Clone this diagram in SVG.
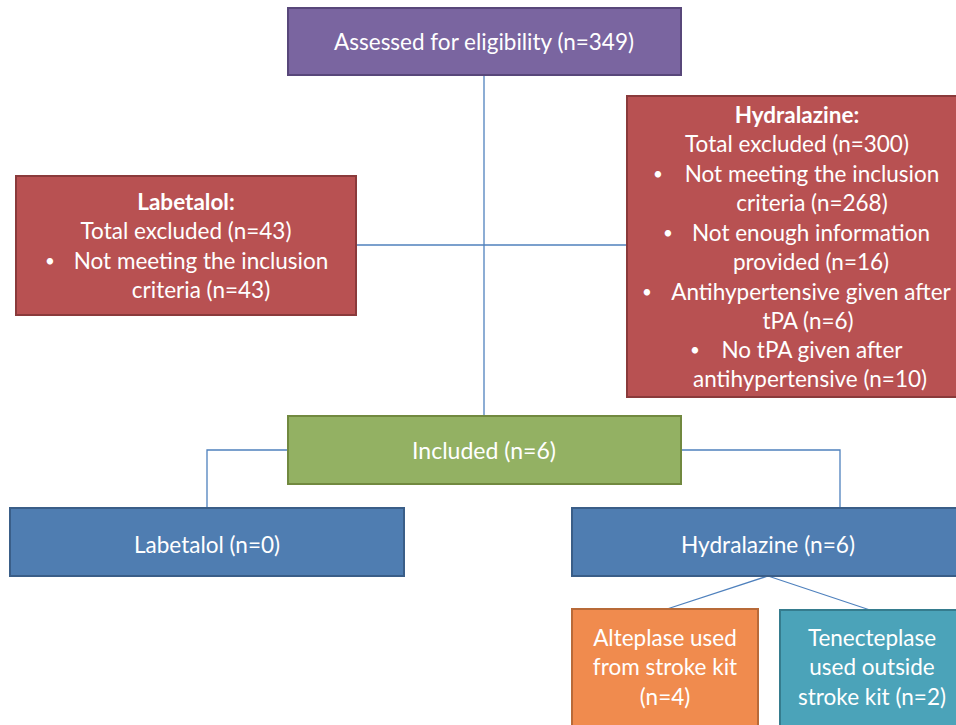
<svg xmlns="http://www.w3.org/2000/svg" width="956" height="725" viewBox="0 0 956 725">
<style>
text{font-family:Lato,"Open Sans","Liberation Sans",sans-serif;font-size:22.5px;fill:#fff;text-anchor:middle}
.b{font-weight:bold}
.s{text-anchor:start;font-size:17px}
.c{font-size:23px}
.purple{fill:#7A65A0;stroke:#58477A;stroke-width:2}
.red{fill:#B85152;stroke:#8A3A3B;stroke-width:2}
.green{fill:#93B163;stroke:#71893F;stroke-width:2}
.blue{fill:#4F7DB1;stroke:#3A5E88;stroke-width:2}
.orange{fill:#F08B4E;stroke:#B86A38;stroke-width:2}
.teal{fill:#4BA3B9;stroke:#357C8E;stroke-width:2}
.ln{fill:none;stroke:#4F81BD;stroke-width:1.3}
</style>
<rect width="956" height="725" fill="#fff"/>
<g id="connectors">
<path class="ln" d="M484,75V416"/>
<path class="ln" d="M357,245H627"/>
<path class="ln" d="M288,450H207V508"/>
<path class="ln" d="M681,450H840V508"/>
<path class="ln" d="M768,576L667,609"/>
<path class="ln" d="M768,576L870,610"/>
</g>
<g id="assessed">
<rect class="purple" x="288" y="8" width="393" height="67"/>
<text x="484" y="50">Assessed for eligibility (n=349)</text>
</g>
<g id="labetalol-excluded">
<rect class="red" x="16" y="176" width="340" height="139"/>
<text class="b" x="186" y="210">Labetalol:</text>
<text x="186" y="239">Total excluded (n=43)</text>
<text x="45" y="267" class="s">•</text>
<text x="201" y="269">Not meeting the inclusion</text>
<text x="201" y="298">criteria (n=43)</text>
</g>
<g id="hydralazine-excluded">
<rect class="red" x="627" y="96" width="340" height="301"/>
<text class="b" x="797" y="123">Hydralazine:</text>
<text x="797" y="152">Total excluded (n=300)</text>
<text x="653" y="180" class="s">•</text>
<text x="812" y="182">Not meeting the inclusion</text>
<text x="812" y="211">criteria (n=268)</text>
<text x="663" y="239" class="s">•</text>
<text x="811" y="241">Not enough information</text>
<text x="811" y="270">provided (n=16)</text>
<text x="642" y="298" class="s">•</text>
<text x="811" y="300">Antihypertensive given after</text>
<text x="808" y="329">tPA (n=6)</text>
<text x="690" y="356" class="s">•</text>
<text x="812" y="358">No tPA given after</text>
<text x="810" y="387">antihypertensive (n=10)</text>
</g>
<g id="included">
<rect class="green" x="288" y="416" width="393" height="68"/>
<text class="c" x="484" y="459" textLength="144" lengthAdjust="spacingAndGlyphs">Included (n=6)</text>
</g>
<g id="labetalol">
<rect class="blue" x="10" y="508" width="394" height="68"/>
<text class="c" x="207" y="553" textLength="146" lengthAdjust="spacingAndGlyphs">Labetalol (n=0)</text>
</g>
<g id="hydralazine">
<rect class="blue" x="572" y="508" width="394" height="68"/>
<text class="c" x="768" y="553" textLength="174" lengthAdjust="spacingAndGlyphs">Hydralazine (n=6)</text>
</g>
<g id="alteplase">
<rect class="orange" x="572" y="609" width="186" height="120"/>
<text x="665" y="646">Alteplase used</text>
<text x="665" y="675">from stroke kit</text>
<text x="665" y="705">(n=4)</text>
</g>
<g id="tenecteplase">
<rect class="teal" x="780" y="610" width="186" height="120"/>
<text x="872" y="646">Tenecteplase</text>
<text x="872" y="675">used outside</text>
<text x="872" y="705">stroke kit (n=2)</text>
</g>
</svg>
